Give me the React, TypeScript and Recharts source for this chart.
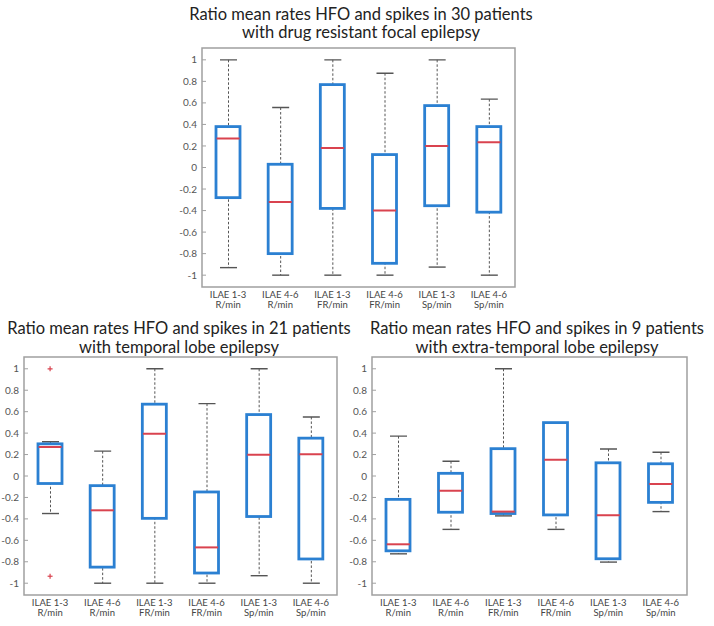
import React from 'react';
import { ComposedChart, Bar, XAxis, YAxis, Scatter, ReferenceArea } from 'recharts';

// ---------- data ----------
const labelLine1 = ['ILAE 1-3', 'ILAE 4-6', 'ILAE 1-3', 'ILAE 4-6', 'ILAE 1-3', 'ILAE 4-6'];
const labelLine2 = ['R/min', 'R/min', 'FR/min', 'FR/min', 'Sp/min', 'Sp/min'];
const yTicks = [-1, -0.8, -0.6, -0.4, -0.2, 0, 0.2, 0.4, 0.6, 0.8, 1];
const yDomain: [number, number] = [-1.11, 1.11];

// 30 patients, drug resistant focal epilepsy
const allMin = [-0.93, -1, -1, -1, -0.925, -1];
const allQ1 = [-0.28, -0.8, -0.38, -0.89, -0.355, -0.415];
const allMed = [0.27, -0.32, 0.18, -0.4, 0.2, 0.235];
const allQ3 = [0.38, 0.03, 0.77, 0.12, 0.575, 0.38];
const allMax = [1, 0.557, 1, 0.876, 1, 0.635];

// 21 patients, temporal lobe epilepsy
const tleMin = [-0.35, -1, -1, -1, -0.93, -1];
const tleQ1 = [-0.07, -0.85, -0.395, -0.905, -0.378, -0.774];
const tleMed = [0.27, -0.32, 0.393, -0.666, 0.198, 0.204];
const tleQ3 = [0.3, -0.09, 0.67, -0.149, 0.573, 0.353];
const tleMax = [0.32, 0.232, 1, 0.675, 1, 0.551];
const tleOutHigh = [1.0, null, null, null, null, null];
const tleOutLow = [-0.935, null, null, null, null, null];

// 9 patients, extra-temporal lobe epilepsy
const etMin = [-0.726, -0.498, -0.372, -0.498, -0.803, -0.332];
const etQ1 = [-0.698, -0.338, -0.35, -0.363, -0.772, -0.246];
const etMed = [-0.637, -0.138, -0.332, 0.151, -0.366, -0.074];
const etQ3 = [-0.218, 0.025, 0.255, 0.498, 0.123, 0.114];
const etMax = [0.372, 0.138, 1.0, 0.498, 0.252, 0.222];

const noOut = [null, null, null, null, null, null];

function buildRows(
  mn: number[], q1: number[], med: number[], q3: number[], mx: number[],
  outHi: (number | null)[], outLo: (number | null)[]
) {
  return labelLine1.map((l1, i) => ({
    cat: l1 + '|' + labelLine2[i],
    whisker: [mn[i], mx[i]],
    box: [q1[i], q3[i]],
    med: med[i],
    outHi: outHi[i],
    outLo: outLo[i],
  }));
}

const dataAll = buildRows(allMin, allQ1, allMed, allQ3, allMax, noOut, noOut);
const dataTle = buildRows(tleMin, tleQ1, tleMed, tleQ3, tleMax, tleOutHigh, tleOutLow);
const dataEt = buildRows(etMin, etQ1, etMed, etQ3, etMax, noOut, noOut);

// ---------- styles ----------
const BLUE = '#2b80d2';
const RED = '#d9434f';
const WHISKER = '#555555';
const FRAME = '#a0a0a0';
const FONT = 'Lato, "Open Sans", sans-serif';

const WhiskerShape = (props: any) => {
  const { x, y, width, height } = props;
  if (x == null || y == null) return null;
  const top = Math.min(y, y + height);
  const h = Math.abs(height);
  const cx = x + width / 2;
  return (
    <g>
      <line x1={cx} x2={cx} y1={top} y2={top + h} stroke={WHISKER} strokeWidth={1} strokeDasharray="2.5 2" />
      <line x1={x} x2={x + width} y1={top} y2={top} stroke={WHISKER} strokeWidth={1.4} />
      <line x1={x} x2={x + width} y1={top + h} y2={top + h} stroke={WHISKER} strokeWidth={1.4} />
    </g>
  );
};

const BoxShape = (props: any) => {
  const { x, y, width, height } = props;
  if (x == null || y == null) return null;
  const top = Math.min(y, y + height);
  const h = Math.abs(height);
  return <rect x={x} y={top} width={width} height={h} fill="#ffffff" stroke={BLUE} strokeWidth={2.8} />;
};

const MedianShape = (props: any) => {
  const { cx, cy } = props;
  if (cx == null || cy == null || isNaN(cx) || isNaN(cy)) return null;
  return <line x1={cx - 11.5} x2={cx + 11.5} y1={cy} y2={cy} stroke={RED} strokeWidth={2} />;
};

const OutlierShape = (props: any) => {
  const { cx, cy, payload, field } = props;
  if (cx == null || cy == null || isNaN(cx) || isNaN(cy)) return null;
  if (payload && payload[field] == null) return null;
  return (
    <g stroke={RED} strokeWidth={1.2}>
      <line x1={cx - 2.5} x2={cx + 2.5} y1={cy} y2={cy} />
      <line x1={cx} x2={cx} y1={cy - 2.5} y2={cy + 2.5} />
    </g>
  );
};

const XTick = (props: any) => {
  const { x, y, payload } = props;
  const parts = String(payload.value).split('|');
  return (
    <g>
      <text x={x} y={y + 10.5} textAnchor="middle" fontSize={9.5} fill="#444" fontFamily={FONT}>{parts[0]}</text>
      <text x={x} y={y + 21} textAnchor="middle" fontSize={9.5} fill="#444" fontFamily={FONT}>{parts[1]}</text>
    </g>
  );
};

const fmtY = (v: number) => String(+v.toFixed(1));

const YW = 24;
const RW = 6;
const MT = 4;
const XH = 30;

function Panel({ data, plotLeft, plotTop, plotW, plotH }: any) {
  const W = YW + plotW + RW;
  const H = MT + plotH + XH;
  return (
    <div style={{ position: 'absolute', left: plotLeft - YW, top: plotTop - MT, width: W, height: H }}>
      <ComposedChart width={W} height={H} data={data} margin={{ top: MT, right: 0, bottom: 0, left: 0 }}>
        <XAxis
          xAxisId="w"
          dataKey="cat"
          type="category"
          orientation="bottom"
          height={XH}
          tickLine={false}
          axisLine={false}
          tickSize={0}
          tickMargin={0}
          interval={0}
          tick={<XTick />}
        />
        <XAxis xAxisId="b" dataKey="cat" type="category" orientation="top" height={0} hide />
        <YAxis
          yAxisId="l"
          type="number"
          domain={yDomain}
          allowDataOverflow
          ticks={yTicks}
          tickFormatter={fmtY}
          width={YW}
          axisLine={false}
          tickSize={-4}
          tickMargin={9}
          tickLine={{ stroke: FRAME, strokeWidth: 1 }}
          tick={{ fontSize: 10, fill: '#555', fontFamily: FONT }}
          interval={0}
        />
        <YAxis
          yAxisId="r"
          orientation="right"
          type="number"
          domain={yDomain}
          allowDataOverflow
          ticks={yTicks}
          width={RW}
          axisLine={false}
          tickSize={-4}
          tick={false}
          tickLine={{ stroke: FRAME, strokeWidth: 1 }}
          interval={0}
        />
        <ReferenceArea
          xAxisId="w"
          yAxisId="l"
          y1={yDomain[0]}
          y2={yDomain[1]}
          fill="none"
          fillOpacity={0}
          stroke={FRAME}
          strokeWidth={1.5}
        />
        <Bar xAxisId="w" yAxisId="l" dataKey="whisker" barSize={17} shape={<WhiskerShape />} isAnimationActive={false} />
        <Bar xAxisId="b" yAxisId="l" dataKey="box" barSize={24} shape={<BoxShape />} isAnimationActive={false} />
        <Scatter xAxisId="w" yAxisId="l" dataKey="med" shape={<MedianShape />} isAnimationActive={false} />
        <Scatter xAxisId="w" yAxisId="l" dataKey="outHi" shape={<OutlierShape field="outHi" />} isAnimationActive={false} />
        <Scatter xAxisId="w" yAxisId="l" dataKey="outLo" shape={<OutlierShape field="outLo" />} isAnimationActive={false} />
      </ComposedChart>
    </div>
  );
}

function Title({ cx, top, lh, lines }: any) {
  return (
    <div
      style={{
        position: 'absolute',
        left: cx - 200,
        top,
        width: 400,
        textAlign: 'center',
        fontFamily: FONT,
        fontSize: 16.5,
        lineHeight: lh + 'px',
        color: '#222',
        whiteSpace: 'nowrap',
      }}
    >
      {lines.map((l: string, i: number) => (
        <div key={i}>{l}</div>
      ))}
    </div>
  );
}

export default function App() {
  return (
    <div style={{ position: 'absolute', left: 0, top: 0, width: 714, height: 626, background: '#fff' }}>
      <Title cx={361} top={6} lh={17.5} lines={['Ratio mean rates HFO and spikes in 30 patients', 'with drug resistant focal epilepsy']} />
      <Title cx={179} top={318.5} lh={19} lines={['Ratio mean rates HFO and spikes in 21 patients', 'with temporal lobe epilepsy']} />
      <Title cx={537} top={318.5} lh={19} lines={['Ratio mean rates HFO and spikes in 9 patients', 'with extra-temporal lobe epilepsy']} />
      <Panel data={dataAll} plotLeft={202} plotTop={48} plotW={313} plotH={239} />
      <Panel data={dataTle} plotLeft={24} plotTop={357} plotW={313} plotH={238} />
      <Panel data={dataEt} plotLeft={372} plotTop={357} plotW={315} plotH={238} />
    </div>
  );
}
